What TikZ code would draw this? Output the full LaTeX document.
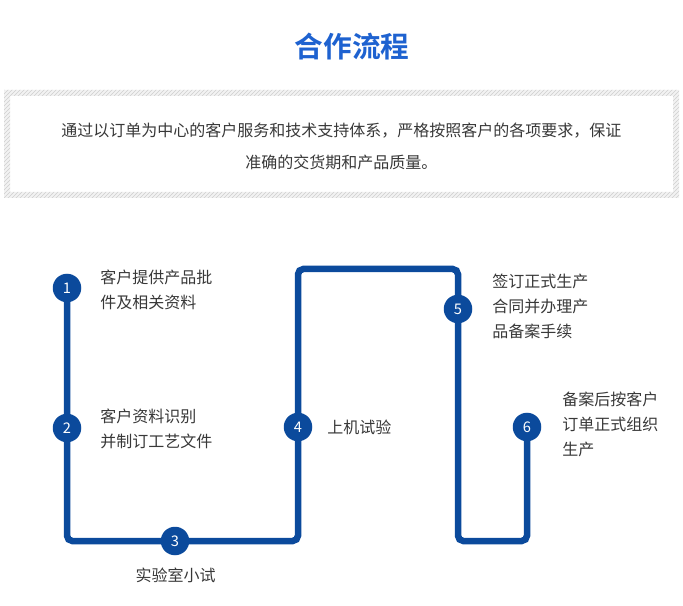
\documentclass[tikz,border=0pt]{standalone}
\usepackage{fontspec}
\setmainfont{Noto Sans CJK SC}
\newfontfamily\titlefont{Noto Sans CJK SC}[BoldFont=* Bold]
\usetikzlibrary{patterns}
\definecolor{flowblue}{HTML}{0B4A9C}
\definecolor{titleblue}{HTML}{1E62D0}
\definecolor{txtgray}{HTML}{383838}
\definecolor{hatchgray}{HTML}{CFCFCF}
\definecolor{hatchback}{HTML}{F2F2F2}
\tikzset{
  stepdot/.style={circle, fill=flowblue, minimum size=28.5*0.75pt, inner sep=0pt, text=white, font=\fontsize{11pt}{12pt}\selectfont},
  steptext/.style={inner sep=0pt, align=left, text=txtgray, font=\fontsize{12pt}{18.75pt}\selectfont},
  flowline/.style={draw=flowblue, line width=6.5*0.75pt, rounded corners=4pt},
}
\begin{document}
\begin{tikzpicture}[x=0.75pt, y=-0.75pt]
\useasboundingbox (0,0) rectangle (683,606);
% title
\node[text=titleblue, font=\titlefont\bfseries\fontsize{21.5pt}{24pt}\selectfont, inner sep=0pt] (title) at (352,47) {合作流程};
% hatched box
\fill[hatchback, even odd rule] (4,90) rectangle (679,198) (10,96) rectangle (673,192);
\fill[pattern=north east lines, pattern color=hatchgray, even odd rule] (4,90) rectangle (679,198) (10,96) rectangle (673,192);
\node[inner sep=0pt, align=center, text=txtgray, font=\fontsize{12pt}{24pt}\selectfont] (desc) at (341.5,146) {通过以订单为中心的客户服务和技术支持体系，严格按照客户的各项要求，保证\\准确的交货期和产品质量。};
% circles positions
\coordinate (p1) at (67,288);
\coordinate (p2) at (67,428);
\coordinate (p3) at (175,541);
\coordinate (p4) at (298,427);
\coordinate (p5) at (458,309);
\coordinate (p6) at (527,427);
\coordinate (k1) at (67,541);
\coordinate (k2) at (298,541);
\coordinate (k3) at (298,269);
\coordinate (k4) at (458,269);
\coordinate (k5) at (458,541);
\coordinate (k6) at (527,541);
\draw[flowline] (p1) -- (k1) -- (k2) -- (k3) -- (k4) -- (k5) -- (k6) -- (p6);
\node[stepdot] (c1) at (p1) {1};
\node[stepdot] (c2) at (p2) {2};
\node[stepdot] (c3) at (p3) {3};
\node[stepdot] (c4) at (p4) {4};
\node[stepdot] (c5) at (p5) {5};
\node[stepdot] (c6) at (p6) {6};
% labels
\node[steptext, anchor=west] (t1) at (100,289.5) {客户提供产品批\\件及相关资料};
\node[steptext, anchor=west] (t2) at (100,429) {客户资料识别\\并制订工艺文件};
\node[steptext] (t3) at (175.5,575) {实验室小试};
\node[steptext, anchor=west] (t4) at (327,427) {上机试验};
\node[steptext, anchor=west] (t5) at (492,306.5) {签订正式生产\\合同并办理产\\品备案手续};
\node[steptext, anchor=west] (t6) at (562,424.5) {备案后按客户\\订单正式组织\\生产};
\end{tikzpicture}
\end{document}
